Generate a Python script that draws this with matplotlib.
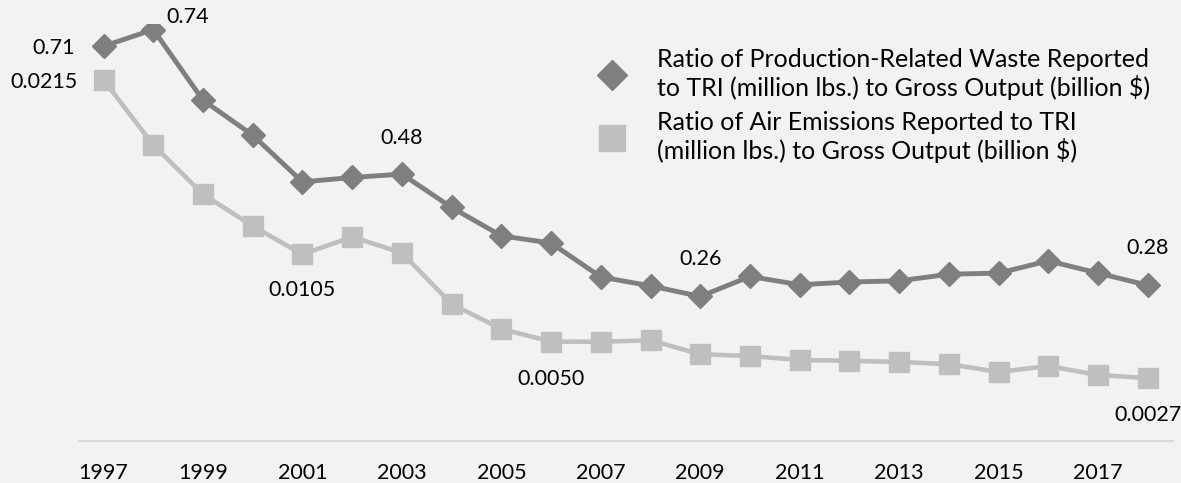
import matplotlib
matplotlib.use("Agg")
import matplotlib.pyplot as plt
from matplotlib.lines import Line2D

plt.rcParams['font.family'] = ['Lato', 'DejaVu Sans']

years = list(range(1997, 2019))
tick_years = list(range(1997, 2019, 2))

# ratio of production-related waste (million lbs.) to gross output (billion $)
waste_ratio = [0.71, 0.74, 0.613, 0.550, 0.466, 0.474, 0.48, 0.420, 0.369, 0.356, 0.295,
               0.279, 0.26, 0.296, 0.281, 0.286, 0.288, 0.300, 0.302, 0.324, 0.302, 0.28]
# ratio of air emissions (million lbs.) to gross output (billion $)
air_ratio = [0.0215, 0.0174, 0.01429, 0.01229, 0.0105, 0.01161, 0.01059, 0.00737, 0.00579,
             0.0050, 0.00499, 0.00508, 0.00420, 0.00409, 0.00384, 0.00379, 0.00371,
             0.00358, 0.00308, 0.00346, 0.00289, 0.0027]

# (year, text, dx px, dy px, ha)
waste_labels = [(1997, "0.71", -29, -2, "right"), (1998, "0.74", 13, 13, "left"),
                (2003, "0.48", 0, 36, "center"), (2009, "0.26", 0, 37, "center"),
                (2018, "0.28", 0, 37, "center")]
air_labels = [(1997, "0.0215", -26, -2, "right"), (2001, "0.0105", 0, -36, "center"),
              (2006, "0.0050", 0, -37, "center"), (2018, "0.0027", 0, -37, "center")]

waste_label = "Ratio of Production-Related Waste Reported\nto TRI (million lbs.) to Gross Output (billion $)"
air_label = "Ratio of Air Emissions Reported to TRI\n(million lbs.) to Gross Output (billion $)"

bg = "#f2f2f2"
dark = "#7f7f7f"
light = "#bfbfbf"
fs = 15.5
fs_leg = 18

fig = plt.figure(figsize=(11.81, 4.83), dpi=100, facecolor=bg)
ax = fig.add_axes([78.7 / 1181, 42 / 483, 1094 / 1181, 417 / 483])
ax.set_facecolor(bg)
ax2 = ax.twinx()

ax.plot(years, waste_ratio, color=dark, lw=3.5, marker="D", ms=12.5, zorder=3)
ax2.plot(years, air_ratio, color=light, lw=3.3, marker="s", ms=14, zorder=2)
ax.set_zorder(ax2.get_zorder() + 1)
ax.patch.set_visible(False)
ax2.patch.set_visible(True)
ax2.patch.set_facecolor(bg)

ax.set_xlim(1996.5, 2018.5)
ax.set_ylim(0, 0.75)
ax2.set_ylim(-0.00127, 0.02503)

for a in (ax, ax2):
    for side in ("top", "right", "left"):
        a.spines[side].set_visible(False)
    a.spines["bottom"].set_color("#d9d9d9")
    a.spines["bottom"].set_linewidth(1.6)
    a.set_yticks([])
ax2.spines["bottom"].set_visible(False)

ax.set_xticks(tick_years)
ax.set_xticklabels([str(y) for y in tick_years], fontsize=fs)
ax.tick_params(axis="x", length=0, pad=16)

for yr, txt, dx, dy, ha in waste_labels:
    ax.annotate(txt, (yr, waste_ratio[years.index(yr)]), xytext=(dx, dy),
                textcoords="offset pixels", ha=ha, va="center", fontsize=fs, color="black")
for yr, txt, dx, dy, ha in air_labels:
    ax2.annotate(txt, (yr, air_ratio[years.index(yr)]), xytext=(dx, dy),
                 textcoords="offset pixels", ha=ha, va="center", fontsize=fs, color="black")

handles = [Line2D([], [], color=dark, marker="D", ls="none", ms=15),
           Line2D([], [], color=light, marker="s", ms=19, ls="none")]
handle_w = 22 / 25.0
leg = fig.legend(handles, [waste_label, air_label], loc="upper left",
                 bbox_to_anchor=((612 - 11) / 1181, 1 - 48 / 483), frameon=False,
                 fontsize=fs_leg, handlelength=handle_w, handletextpad=(657 - 623) / 25.0,
                 labelspacing=0.42, borderpad=0, borderaxespad=0)
for t in leg.get_texts():
    t.set_linespacing(1.2)

fig.savefig("out.png", dpi=100, facecolor=bg)
